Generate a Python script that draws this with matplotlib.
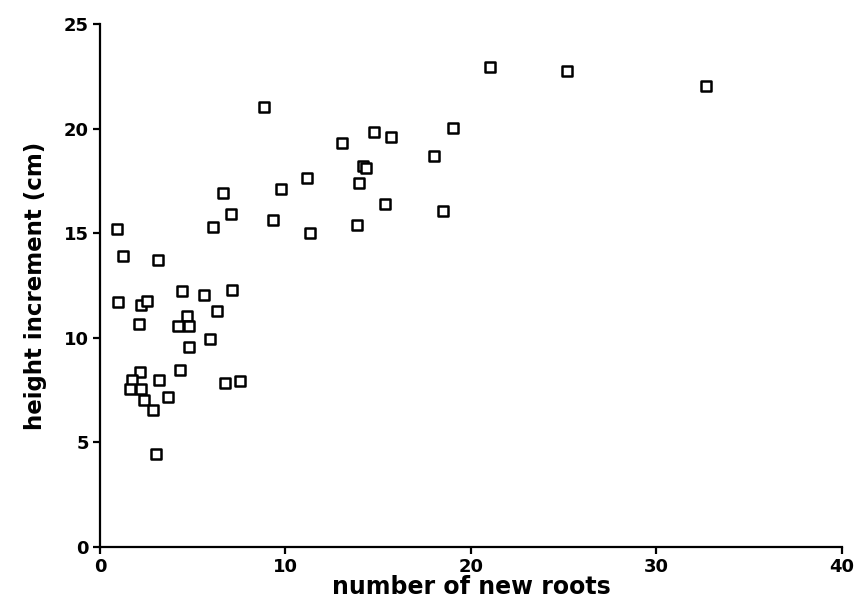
import matplotlib
matplotlib.use('Agg')
import matplotlib.pyplot as plt

# number of new roots vs height increment (cm)
roots = [0.9, 6.11, 1.26, 3.11, 0.99, 2.19, 2.52, 4.42, 5.62, 7.13,
         6.31, 4.69, 4.19, 4.8, 2.08, 5.91, 4.8, 2.16, 1.73, 1.62,
         2.21, 2.39, 2.87, 3.2, 3.68, 4.31, 6.72, 7.53, 3.0,
         6.63, 7.06,
         8.86, 9.74, 11.16, 9.34, 11.32, 13.06, 14.77, 15.69, 19.01, 18.0,
         14.19, 14.34, 13.98, 15.36, 18.5, 13.84,
         21.02, 25.16, 32.65]
height = [15.2, 15.3, 13.89, 13.7, 11.69, 11.59, 11.78, 12.22, 12.06, 12.3,
          11.29, 11.02, 10.57, 10.57, 10.67, 9.95, 9.57, 8.37, 7.99, 7.55,
          7.56, 7.05, 6.56, 7.96, 7.16, 8.45, 7.83, 7.94, 4.46,
          16.94, 15.93,
          21.04, 17.11, 17.62, 15.61, 14.99, 19.33, 19.82, 19.6, 20.03, 18.71,
          18.2, 18.12, 17.4, 16.4, 16.08, 15.39,
          22.95, 22.73, 22.02]

xticks = [0, 10, 20, 30, 40]
yticks = [0, 5, 10, 15, 20, 25]

fig = plt.figure(figsize=(8.6, 6.07), dpi=100)
ax = fig.add_axes([0.1163, 0.0988, 0.8627, 0.8617])

ax.scatter(roots, height, marker='s', s=56, facecolors='white',
           edgecolors='black', linewidths=1.8, zorder=3)

ax.set_xlim(0, 40)
ax.set_ylim(0, 25)
ax.set_xticks(xticks)
ax.set_yticks(yticks)

for side in ['top', 'right']:
    ax.spines[side].set_visible(False)
for side in ['left', 'bottom']:
    ax.spines[side].set_linewidth(1.6)

ax.tick_params(direction='out', length=5, width=1.6, labelsize=13, pad=3)
for lbl in ax.get_xticklabels() + ax.get_yticklabels():
    lbl.set_fontweight('bold')

ax.set_xlabel('number of new roots', fontsize=17, fontweight='bold', labelpad=-1)
ax.set_ylabel('height increment (cm)', fontsize=16.5, fontweight='bold', labelpad=12)

fig.savefig('out.png', dpi=100)
